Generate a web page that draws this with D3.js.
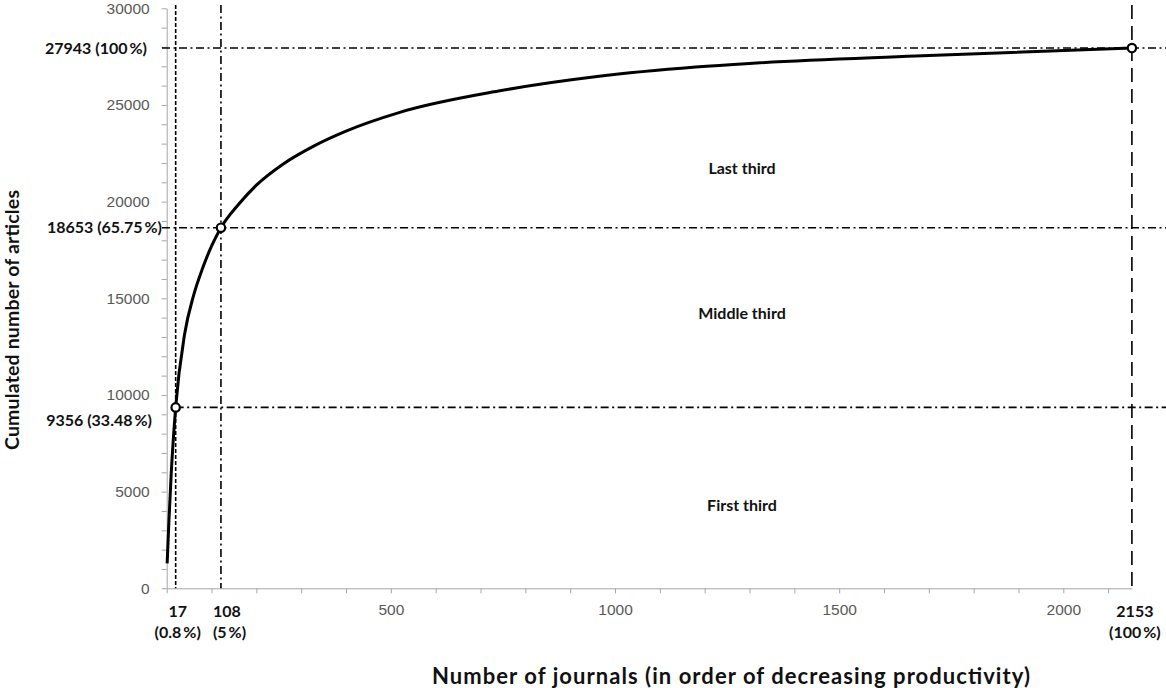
<!DOCTYPE html>
<html>
<head>
<meta charset="utf-8">
<script src="https://cdn.jsdelivr.net/npm/d3@7"></script>
<style>
    body { margin: 0; background: #fff; }
    svg { display: block; font-family: Lato, "Open Sans", sans-serif; }
    .axis path, .axis line { stroke: #a6a6a6; }
    .axis text { fill: #595959; font-size: 15.5px; }
    .note { font-weight: bold; fill: #111; font-size: 16px; }
</style>
</head>
<body>
<svg id="chart" width="1166" height="688"></svg>
<script>
// Curva acumulada (posição no eixo x)
const rankVals = [1, 5, 10, 20, 40, 60, 80, 100, 121, 160, 200, 260, 330, 400, 520, 740, 960, 1180, 1300, 1670, 2153];
const articleVals = [1290, 3500, 5900, 9356, 13150, 15150, 16550, 17700, 18653, 19850, 20850, 21950, 22900, 23650, 24620, 25720, 26470, 26960, 27150, 27530, 27943];

// Pontos marcados (posição como desenhada) e os seus rótulos
const markRank = [20, 121, 2153];
const markArticles = [9356, 18653, 27943];
const markXLabels = [["17", "(0.8\u2009%)"], ["108", "(5\u2009%)"], ["2153", "(100\u2009%)"]];
const markYLabels = ["9356 (33.48\u2009%)", "18653 (65.75\u2009%)", "27943 (100\u2009%)"];

// Ticks
const xMajor = [500, 1000, 1500, 2000];
const yMajor = [0, 5000, 10000, 15000, 20000, 25000, 30000];

// Zonas
const zoneNames = ["First third", "Middle third", "Last third"];
const zoneMid = [4300, 14200, 21700];

const svg = d3.select("#chart");

const x = d3.scaleLinear().domain([0, 2153]).range([166.7, 1131.9]);
const y = d3.scaleLinear().domain([0, 30000]).range([588.3, 8.3]);

// Eixo x
svg.append("g")
    .attr("class", "axis")
    .attr("transform", "translate(0," + y(0) + ")")
    .call(d3.axisBottom(x)
        .tickValues(d3.range(0, 2153, 100))
        .tickSize(5).tickSizeOuter(0).tickPadding(11)
        .tickFormat(d => xMajor.includes(d) ? d : ""));

// Eixo y
svg.append("g")
    .attr("class", "axis")
    .attr("transform", "translate(" + x(0) + ",0)")
    .call(d3.axisLeft(y)
        .tickValues(d3.range(0, 30001, 1000))
        .tickSize(5).tickSizeOuter(0).tickPadding(12)
        .tickFormat(d => yMajor.includes(d) ? d : ""));

// Linhas de referência verticais
const vDash = ["4,2", "8,3.5,2,3.5", "14,7"];
markRank.forEach(function (r, i) {
    svg.append("line")
        .attr("x1", x(r)).attr("x2", x(r))
        .attr("y1", 5).attr("y2", y(0))
        .attr("stroke", "#000").attr("stroke-width", 1.6)
        .attr("stroke-dasharray", vDash[i]);
});

// Linhas de referência horizontais
markArticles.forEach(function (a, i) {
    svg.append("line")
        .attr("x1", i === 0 ? x(markRank[0]) : 162).attr("x2", 1166)
        .attr("y1", y(a)).attr("y2", y(a))
        .attr("stroke", "#000").attr("stroke-width", 1.6)
        .attr("stroke-dasharray", "8,3.5,2,3.5");
});

// Curva
const line = d3.line()
    .x((d, i) => x(rankVals[i]))
    .y(d => y(d))
    .curve(d3.curveMonotoneX);

svg.append("path")
    .datum(articleVals)
    .attr("d", line)
    .attr("fill", "none")
    .attr("stroke", "#000")
    .attr("stroke-width", 3);

// Marcadores
markRank.forEach(function (r, i) {
    svg.append("circle")
        .attr("cx", x(r)).attr("cy", y(markArticles[i]))
        .attr("r", 4.2)
        .attr("fill", "#fff").attr("stroke", "#000").attr("stroke-width", 2.2);
});

// Rótulos do eixo y (valores marcados)
const yLabelRight = [152, 162, 147];
const yLabelShift = [13, 0, 0];
markYLabels.forEach(function (t, i) {
    svg.append("text")
        .attr("class", "note")
        .attr("x", yLabelRight[i])
        .attr("y", y(markArticles[i]) + yLabelShift[i])
        .attr("dy", "0.35em")
        .attr("text-anchor", "end")
        .text(t);
});

// Rótulos do eixo x (valores marcados)
const xLabelAnchor = ["middle", "start", "middle"];
const xLabelDx = [2, -8, 3];
markXLabels.forEach(function (pair, i) {
    pair.forEach(function (t, j) {
        svg.append("text")
            .attr("class", "note")
            .attr("x", x(markRank[i]) + xLabelDx[i])
            .attr("y", 617 + j * 21)
            .attr("text-anchor", xLabelAnchor[i])
            .text(t);
    });
});

// Nomes das zonas
zoneNames.forEach(function (t, i) {
    svg.append("text")
        .attr("x", 742)
        .attr("y", y(zoneMid[i]))
        .attr("dy", "0.35em")
        .attr("text-anchor", "middle")
        .attr("font-weight", "bold")
        .attr("font-size", "16px")
        .attr("fill", "#111")
        .text(t);
});

// Títulos dos eixos
svg.append("text")
    .attr("x", 731).attr("y", 684)
    .attr("text-anchor", "middle")
    .attr("font-weight", "bold")
    .attr("font-size", "22px")
    .attr("textLength", 598)
    .attr("lengthAdjust", "spacing")
    .attr("fill", "#111")
    .text("Number of journals (in order of decreasing productivity)");

svg.append("text")
    .attr("transform", "translate(19,320) rotate(-90)")
    .attr("text-anchor", "middle")
    .attr("font-weight", "bold")
    .attr("font-size", "19.5px")
    .attr("textLength", 260)
    .attr("lengthAdjust", "spacing")
    .attr("fill", "#111")
    .text("Cumulated number of articles");
</script>
</body>
</html>
